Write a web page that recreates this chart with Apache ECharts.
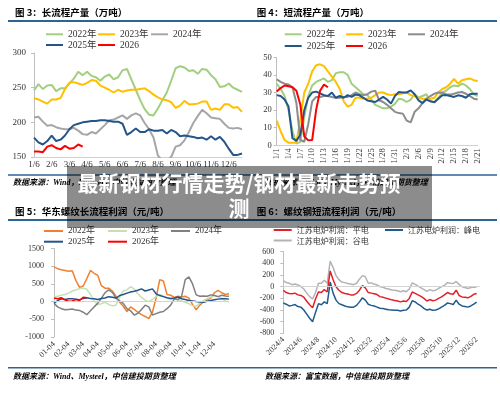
<!DOCTYPE html>
<html><head><meta charset="utf-8">
<script src="https://cdn.jsdelivr.net/npm/echarts@6/dist/echarts.min.js"></script>
<style>html,body{margin:0;padding:0;background:#fff}#c{width:500px;height:395px}</style>
</head><body><div id="c"></div>
<script>
// ---------- Panel 1: 长流程产量（万吨） weekly ----------
const p1Months = ['1/6','2/6','3/6','4/6','5/6','6/6','7/6','8/6','9/6','10/6','11/6','12/6'];
const p1_2022 = [246,255,248,253,254,245,249,249,256,263,273,268,273,267,265,260,266,269,262,265,275,277,262,247,232,219,211,210,220,232,243,260,278,281,279,274,275,270,277,276,268,262,251,252,256,250,247,244];
const p1_2023 = [235,233,230,227,233,233,235,248,257,258,256,254,257,261,260,253,250,247,243,247,244,246,247,247,248,249,245,240,236,233,232,229,221,224,231,226,226,227,230,230,218,220,218,226,226,221,222,215];
const p1_2024 = [207,208,201,195,196,193,191,190,190,192,188,183,182,186,184,190,196,203,204,207,210,205,210,213,210,199,190,178,152,145,145,150,165,167,174,186,199,209,218,213,207,206,205,198,192,191,192,190];
const p1_2025 = [178,171,168,173,181,173,175,181,190,196,198,200,201,202,202,203,203,202,201,201,198,182,186,191,186,186,190,188,188,189,184,189,186,180,181,180,179,177,178,175,180,175,179,172,162,153,153,155];
const p1_2026 = [158,158,157,165,167,163,161,166,162,163,168,165];

// ---------- Panel 2: 短流程产量（万吨） daily ----------
const p2_2022 = [35,32,28,20,8,1,2,16,28,34,36,37,38,36,37,41,41.5,41.5,40,35,33,31,29,28.5,26,23,22,21,21,22,23.5,26.5,26,24.6,26,29,27,28,29,25,24.5,27,30,31,33,34,33.5,35,34,32,29,28];
const p2_2023 = [14,8,3,1.5,1.5,1.5,15,30,35,42,45.5,46,45,42,39,36,32,25,22,23,27,27,26.5,26.5,27,28.5,30,30,29,28.5,29,29,29.5,30,28.5,28,27,26.5,26.5,26.5,27,30,32,33,35,37.8,35,37,37.5,38,37,36.5];
const p2_2024 = [37.5,36,35,34.5,33,24,3,2,12,25,27.5,27.5,28,28,27.5,27,27,27.5,27.5,28.5,30,29,28.5,29,30.5,31,25.6,24.6,23,21,19,18.3,18,14,13,19,21,24,26.5,28,29.3,30,29.8,29,28.8,29.3,30,30.3,29.3,28,26.5,26];
const p2_2025 = [28.5,28,26,22,4,2.5,6,20,27,30,30.5,29.5,28.5,28,30,27,28,27,28.5,27.5,28.8,28.4,27,25.5,25,24.6,26,27.5,26,23.7,28,30.3,30,30,31.2,29,25.5,24,26,25,24.5,26.5,28.5,28.5,28,27.5,28.4,28,27,29,29.3,29.3];
const p2_2026 = [30.5,32.5,34,33.5,33,31,23,5,2.8,3,20,31,34.5,33];

// ---------- Panel 3: 华东螺纹长流程利润（元/吨） ----------
const p3Months = ['01-04','02-04','03-04','04-04','05-04','06-04','07-04','08-04','09-04','10-04','11-04','12-04'];
const p3_2022 = [980,930,900,880,860,870,600,400,440,650,880,800,740,450,380,380,300,150,-20,-130,-280,-150,-220,-300,-370,-420,-480,-300,100,620,580,200,180,120,150,130,150,100,-80,-230,-100,0,50,100,250,320,250,200,220];
const p3_2023 = [120,150,180,200,240,300,330,370,380,350,200,20,-80,-60,-20,-80,-120,-100,120,300,330,420,360,220,120,40,0,60,140,200,150,100,60,80,60,20,-20,-60,-120,-130,-40,30,80,130,180,140,90,20,-10];
const p3_2024 = [-50,-150,-200,-230,-220,-210,-240,-250,-300,-370,-260,-150,-50,100,250,330,260,100,20,-50,-200,-260,-380,-330,-220,-100,-150,-380,-340,-300,-280,-200,-100,80,50,150,620,700,500,190,150,160,150,190,170,140,180,160,150];
const p3_2025 = [-40,30,80,60,80,80,70,50,90,110,90,80,60,90,100,140,120,100,170,200,240,270,290,320,360,300,330,360,220,170,140,110,90,100,130,80,60,30,20,0,-10,-20,10,30,50,70,80,80,70];
const p3_2026 = [100,80,110,50,10,20,60,30,120,110];

// ---------- Panel 4: 螺纹钢短流程利润（元/吨） ----------
const p4Ticks = ['2024/4','2024/6','2024/8','2024/10','2024/12','2025/2','2025/4','2025/6','2025/8','2025/10','2025/12','2026/2'];
const p4_ping = [-60,-100,-115,-120,-110,-140,-150,-180,-250,-310,-360,-210,-90,-100,-50,-90,270,120,0,-60,-100,-115,-125,-140,-140,-115,-60,20,-20,-100,-110,-120,-135,-170,-180,-195,-210,-225,-235,-245,-260,-245,-255,-200,-90,-115,-140,-165,-200,-245,-220,-240,-230,-200,-175,-140,-100,-120,-130,-60,-150,-175,-180,-190,-165,-130,-115];
const p4_feng = [-280,-300,-330,-320,-305,-340,-350,-400,-470,-540,-600,-440,-290,-310,-260,-290,80,-110,-230,-290,-310,-330,-345,-350,-350,-320,-260,-190,-230,-300,-320,-330,-350,-370,-375,-385,-395,-400,-405,-405,-415,-405,-400,-350,-240,-260,-300,-330,-370,-400,-385,-405,-400,-380,-350,-320,-280,-290,-305,-230,-300,-330,-340,-350,-330,-300,-265];
const p4_gu = [104,72,60,35,45,30,5,-40,-110,-170,-210,-100,60,60,110,60,440,330,190,120,80,70,55,45,35,60,130,190,170,60,65,45,30,0,-10,-30,-40,-55,-60,-70,-85,-70,-85,-40,65,40,10,-20,-50,-80,-50,-70,-60,-30,0,20,70,60,55,90,40,0,-15,-30,-15,-10,-5];

// ---------- categories ----------
const p1Cats = [];
p1Months.forEach((m, k) => { for (let w = 0; w < 4; w++) p1Cats.push(w === 0 ? m : (k + 1) + '/' + (6 + 7 * w)); });
const p2Cats = [];
for (let d = 1; d <= 31; d++) p2Cats.push('1/' + d);
for (let d = 1; d <= 21; d++) p2Cats.push('2/' + d);
const p3Cats = [];
p3Months.forEach(m => ['04','11','18','25'].forEach(d => p3Cats.push(m.slice(0, 2) + '-' + d)));
p3Cats.push('12-31');
const p4Cats = [];
for (let k = 0; k < 23; k++) {
  const y = 2024 + Math.floor((3 + k) / 12), mo = ((3 + k) % 12) + 1;
  [1, 11, 21].forEach(d => p4Cats.push(y + '/' + mo + '/' + d));
}
p4Cats.length = 68;

const SERIF = '"Liberation Serif","Noto Sans CJK SC",serif';
const CJK = '"Noto Sans CJK SC","Noto Sans",sans-serif';
const AX = '#bfbfbf';

function line(name, data, gi, color, width) {
  return { name, type: 'line', xAxisIndex: gi, yAxisIndex: gi, data, showSymbol: false, symbol: 'none',
    lineStyle: { color, width }, itemStyle: { color }, emphasis: { disabled: true }, animation: false };
}
const zeroLine = { silent: true, symbol: ['none','none'], label: { show: false }, animation: false,
  lineStyle: { color: '#d4d4d4', width: 1, type: 'solid' }, data: [{ yAxis: 0 }] };

const series = [
  line('p1_2022', p1_2022, 0, '#a1cf7e', 2),
  line('p1_2023', p1_2023, 0, '#ffc000', 2),
  line('p1_2024', p1_2024, 0, '#a6a6a6', 2),
  line('p1_2025', p1_2025, 0, '#24558a', 2),
  line('p1_2026', p1_2026, 0, '#ff0000', 2),
  line('p2_2022', p2_2022, 1, '#a1cf7e', 2),
  line('p2_2023', p2_2023, 1, '#ffc000', 2),
  line('p2_2024', p2_2024, 1, '#8c8c8c', 2),
  line('p2_2025', p2_2025, 1, '#24558a', 2),
  line('p2_2026', p2_2026, 1, '#ff0000', 2),
  line('p3_2022', p3_2022, 2, '#f08030', 1.5),
  line('p3_2023', p3_2023, 2, '#c6e0b4', 1.5),
  line('p3_2024', p3_2024, 2, '#808080', 1.5),
  line('p3_2025', p3_2025, 2, '#24558a', 1.5),
  line('p3_2026', p3_2026, 2, '#ff0000', 1.5),
  line('p4_gu', p4_gu, 3, '#b3b3b3', 1.5),
  line('p4_ping', p4_ping, 3, '#e32228', 1.5),
  line('p4_feng', p4_feng, 3, '#1f5b8e', 1.5)
];
series[10].markLine = zeroLine;
series[15].markLine = zeroLine;

const legendItems = [
  ['p1_2022','2022年',68,34.3,17,SERIF,9.5], ['p1_2023','2023年',120,34.3,17,SERIF,9.5], ['p1_2024','2024年',173,34.3,17,SERIF,9.5],
  ['p1_2025','2025年',68,45,17,SERIF,9.5], ['p1_2026','2026',120,45,17,SERIF,9.5],
  ['p2_2022','2022年',306.7,34.3,17,SERIF,9.5], ['p2_2023','2023年',368,34.3,17,SERIF,9.5], ['p2_2024','2024年',430,34.3,17,SERIF,9.5],
  ['p2_2025','2025年',306.7,46,17,SERIF,9.5], ['p2_2026','2026',368,46,17,SERIF,9.5],
  ['p3_2022','2022年',68,231,19,SERIF,9], ['p3_2023','2023年',132,231,19,SERIF,9], ['p3_2024','2024年',195,231,19,SERIF,9],
  ['p3_2025','2025年',68,241.7,19,SERIF,9], ['p3_2026','2026年',132,241.7,19,SERIF,9],
  ['p4_ping','江苏电炉利润：平电',296.7,230,18,CJK,8], ['p4_feng','江苏电炉利润：峰电',408,230,18,CJK,8], ['p4_gu','江苏电炉利润：谷电',296.7,240.5,18,CJK,8]
];
const legend = legendItems.map(([s, t, tx, cy, iw, ff, fs]) => ({
  left: tx - 5 - iw, top: cy - 6, data: [s], icon: 'rect', itemWidth: iw, itemHeight: 2, padding: 0, itemGap: 0,
  selectedMode: false, formatter: () => t, textStyle: { fontSize: fs, fontFamily: ff, color: '#333', lineHeight: 12 }
}));

function yAx(gi, min, max, interval, fs, margin) {
  return { type: 'value', gridIndex: gi, min, max, interval,
    axisLine: { show: true, lineStyle: { color: AX } }, axisTick: { show: true, length: 3, lineStyle: { color: AX } },
    splitLine: { show: false }, axisLabel: { fontSize: fs, fontFamily: SERIF, color: '#333', margin, formatter: v => String(v) } };
}
function xAx(gi, data, showLine, label) {
  return { type: 'category', gridIndex: gi, data, boundaryGap: false,
    axisLine: { show: showLine, onZero: false, lineStyle: { color: '#d0d0d0' } }, axisTick: { show: false },
    splitLine: { show: false }, axisLabel: Object.assign({ fontFamily: SERIF, color: '#333' }, label) };
}

const T = (text, x, y, extra) => ({ type: 'text', z: 10, style: Object.assign({ text, x, y, fill: '#000', verticalAlign: 'middle',
  fontSize: 9.5, fontWeight: 'bold', fontFamily: CJK }, extra || {}) });
const R = (x1, y1, x2, y2, w) => ({ type: 'line', z: 10, shape: { x1, y1, x2, y2 }, style: { stroke: '#2c6496', lineWidth: w } });
const SRC = { fontSize: 8, fontStyle: 'italic', fontWeight: 'bold', fontFamily: SERIF };

const option = {
  animation: false,
  backgroundColor: '#fff',
  grid: [
    { left: 34, top: 53, width: 208, height: 104 },
    { left: 276.7, top: 57.3, width: 201, height: 88 },
    { left: 54, top: 248.5, width: 175, height: 88.5 },
    { left: 283.3, top: 251.7, width: 196.3, height: 81.7 }
  ],
  xAxis: [
    xAx(0, p1Cats, true, { interval: 3, fontSize: 9, margin: 3 }),
    xAx(1, p2Cats, true, { interval: 2, rotate: 90, fontSize: 8.5, margin: 3 }),
    xAx(2, p3Cats, false, { interval: (i) => i % 4 === 0 && i < 48, rotate: 45, fontSize: 8, margin: 6 }),
    xAx(3, p4Cats, false, { interval: 5, rotate: 45, fontSize: 8, margin: 5,
      formatter: v => v.split('/').slice(0, 2).join('/') })
  ],
  yAxis: [
    yAx(0, 150, 300, 50, 9, 8),
    yAx(1, 0, 50, 10, 8.5, 5),
    yAx(2, -1000, 1500, 500, 8, 10),
    yAx(3, -800, 600, 200, 8, 9)
  ],
  legend,
  series,
  graphic: [
    T('图 3：长流程产量（万吨）', 15, 12.7),
    T('图 4：短流程产量（万吨）', 256.7, 12.7),
    T('图 5：华东螺纹长流程利润（元/吨）', 15, 211.7),
    T('图 6：螺纹钢短流程利润（元/吨）', 256.7, 211),
    R(8, 21, 497, 21, 2),
    R(8, 175, 497, 175, 1.5),
    R(8, 220, 497, 220, 2),
    R(8, 367.7, 497, 367.7, 1.5),
    T('数据来源：Wind，Mysteel，中信建投期货整理', 13, 182.7, SRC),
    T('数据来源：Wind，Mysteel，中信建投期货整理', 265, 182.7, SRC),
    T('数据来源：Wind、Mysteel，中信建投期货整理', 13, 376.7, SRC),
    T('数据来源：富宝数据，中信建投期货整理', 265, 376.7, SRC),
    { type: 'rect', z: 100, shape: { x: 67, y: 166, width: 365, height: 62 }, style: { fill: 'rgba(0,0,0,0.45)' } },
    { type: 'text', z: 101, style: { text: '最新钢材行情走势/钢材最新走势预\n测', x: 239, y: 195.8, align: 'center',
      verticalAlign: 'middle', fill: '#fff', fontSize: 21, fontWeight: 'bold', fontFamily: CJK, lineHeight: 25 } }
  ]
};
const chart = echarts.init(document.getElementById('c'), null, { width: 500, height: 395 });
chart.setOption(option);
</script>
</body></html>
